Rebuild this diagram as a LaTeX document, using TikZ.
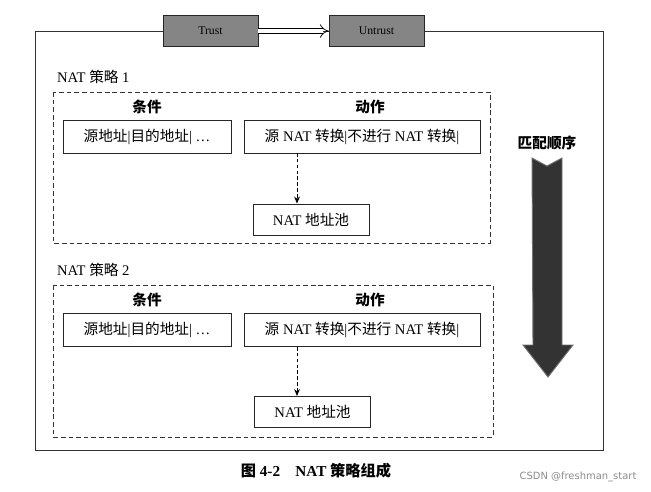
\documentclass[tikz,border=0pt]{standalone}
\usepackage{fontspec}
\setmainfont{Liberation Serif}
\newfontfamily\cjk{Noto Sans CJK SC}
\newfontfamily\wmfont{DejaVu Sans}
\usetikzlibrary{arrows.meta,positioning}
\colorlet{tabgray}{black!48}
\newcommand{\zh}[1]{{\cjk #1}}

\begin{document}
\begin{tikzpicture}[x=0.03cm,y=-0.03cm,>={Stealth[length=6pt,width=5pt]},
  every node/.style={font=\fontsize{12.5}{14}\selectfont},
  zonebox/.style={draw=black!80,thick,dash pattern=on 4pt off 2.5pt},
  field/.style={draw=black!85,thick,minimum height=0.99cm,inner sep=2pt},
  pool/.style={draw=black!85,thick,minimum width=3.48cm,minimum height=0.93cm},
  head/.style={font=\fontsize{12.5}{14}\selectfont\bfseries},
  tag/.style={draw=black!85,fill=tabgray,minimum width=2.85cm,minimum height=0.93cm,font=\fontsize{10}{12}\selectfont}]
\useasboundingbox (0,0) rectangle (651,491);
\draw[semithick,black!80] (35,31) rectangle (603,450);
\node[tag] (trust) at (210.5,31) {Trust};
\node[tag] (untrust) at (376.5,31) {Untrust};
\draw[double=white,double distance=3.5pt,semithick,-{Implies[length=5pt]}] (trust) -- (untrust);

\node[anchor=west] (p1) at (53,77) {NAT \zh{策略} 1};
\draw[zonebox] (53,92) rectangle (490,243);
\node[head] (c1) at (147,107) {\zh{条件}};
\node[head] (d1) at (370,107) {\zh{动作}};
\node[field,minimum width=5.04cm] (cond1) at (147,136.5) {\zh{源地址}|\zh{目的地址}| \ldots};
\node[field,minimum width=7.08cm] (act1) at (362,136.5) {\zh{源} NAT \zh{转换}|\zh{不进行} NAT \zh{转换}|};
\node[pool] (pool1) at (311,219.5) {NAT \zh{地址池}};
\coordinate (a1) at (297,153);
\draw[thick,densely dashed,->] (a1) -- (a1 |- pool1.north);

\node[anchor=west] (p2) at (53,270) {NAT \zh{策略} 2};
\draw[zonebox] (53,285) rectangle (493,437);
\node[head] (c2) at (147,300) {\zh{条件}};
\node[head] (d2) at (370,300) {\zh{动作}};
\node[field,minimum width=5.04cm] (cond2) at (147,330) {\zh{源地址}|\zh{目的地址}| \ldots};
\node[field,minimum width=7.08cm] (act2) at (362,330) {\zh{源} NAT \zh{转换}|\zh{不进行} NAT \zh{转换}|};
\node[pool] (pool2) at (312.5,412) {NAT \zh{地址池}};
\coordinate (a2) at (297,347);
\draw[thick,densely dashed,->] (a2) -- (a2 |- pool2.north);

\node[head] (order) at (547,143) {\zh{匹配顺序}};
\fill[black!80,draw=black!55,thick] (532,158) -- (547,166) -- (562,158) -- (562,345)
  -- (573,345) -- (548,377) -- (523,345) -- (533,345) -- cycle;

\node[font=\fontsize{13}{15}\selectfont\bfseries] (cap) at (316,471) {\zh{图} 4-2\quad NAT \zh{策略组成}};
\node[font=\wmfont\fontsize{8.5}{10}\selectfont,text=black!45] (wm) at (578,477) {CSDN @freshman\_start};
\end{tikzpicture}
\end{document}
